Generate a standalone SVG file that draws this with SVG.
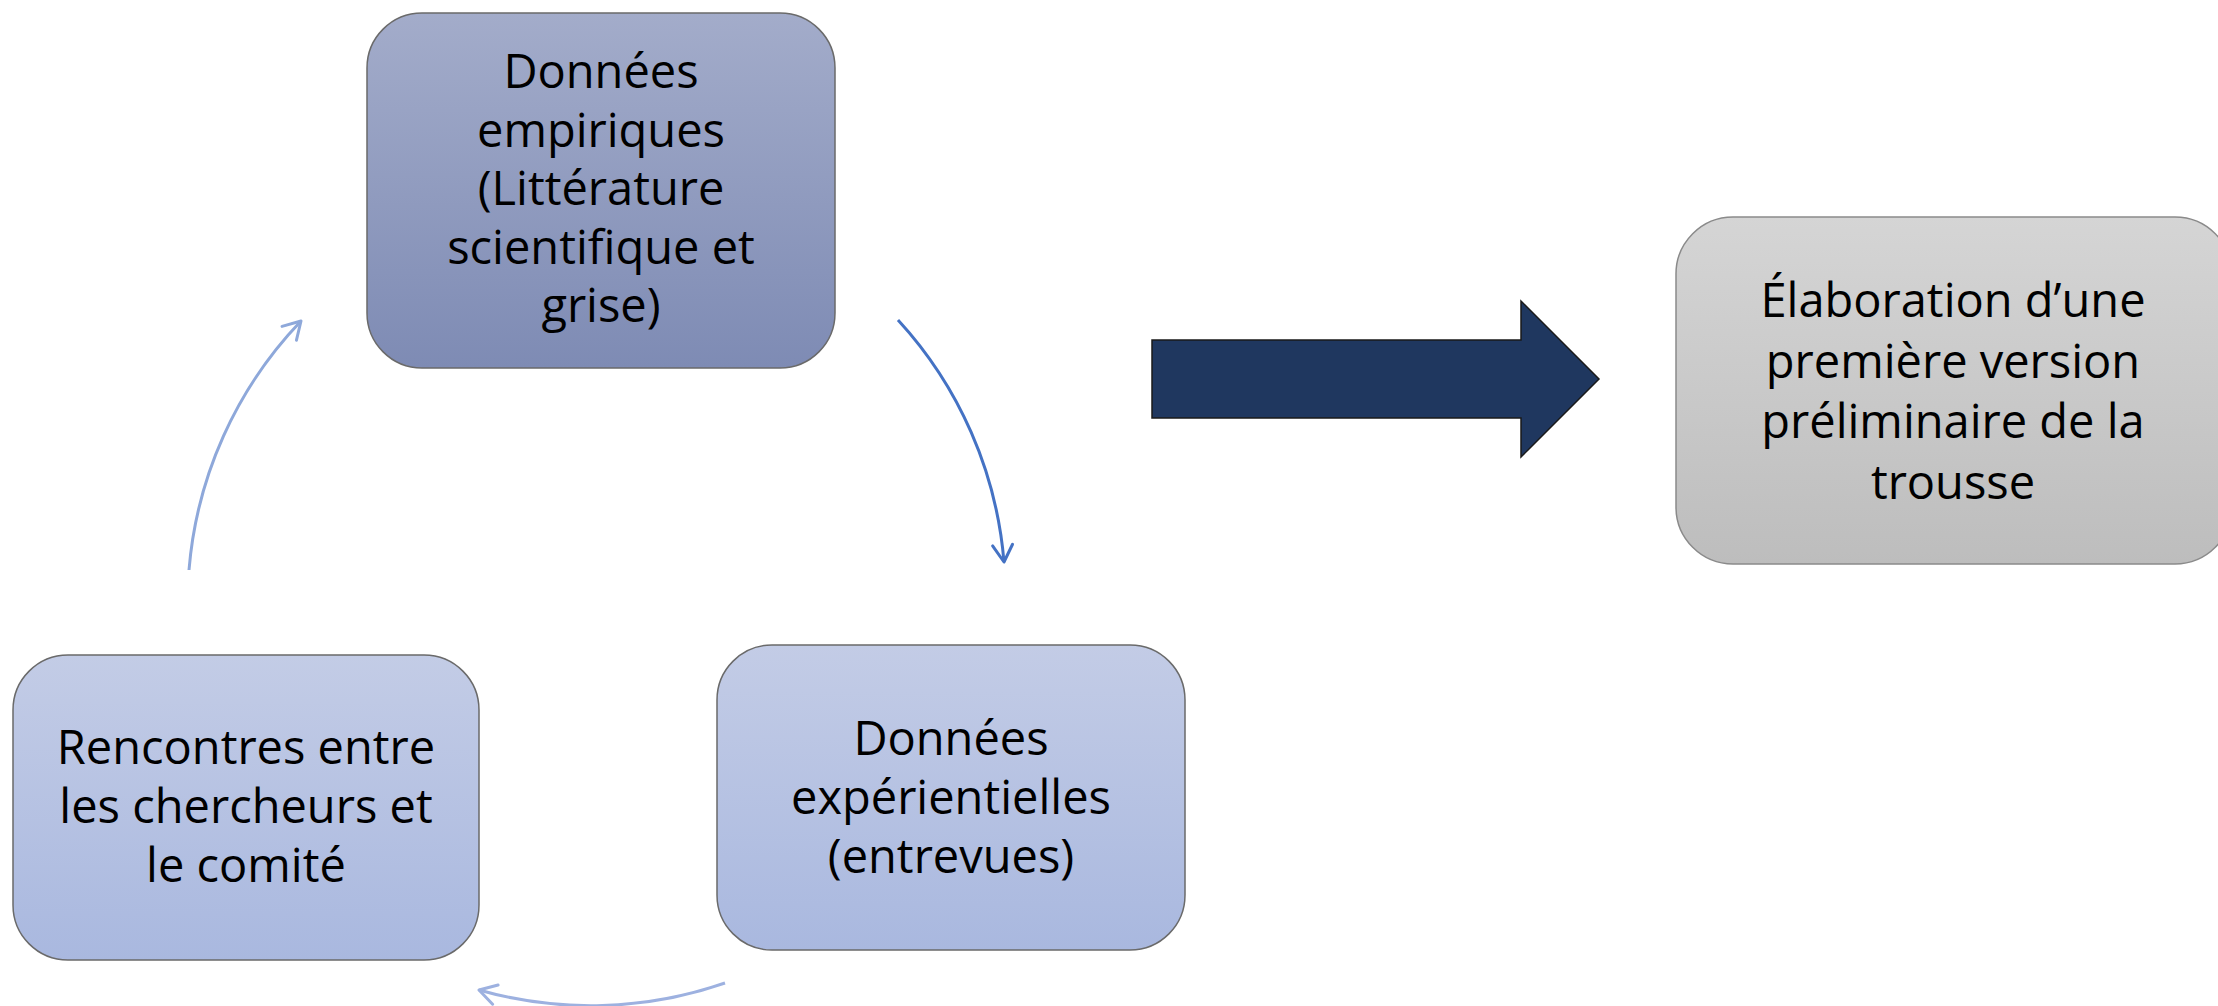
<svg xmlns="http://www.w3.org/2000/svg" width="2218" height="1006" viewBox="0 0 2218 1006">
  <style>
    .lbl { font-family: "Open Sans", "Noto Sans", "Liberation Sans", sans-serif; font-size: 47px; fill: #000; text-anchor: middle; }
    .box { stroke: #6a6a6a; stroke-width: 1.5; }
    .conn { fill: none; stroke-width: 3; }
  </style>
  <defs>
    <linearGradient id="gTop" x1="0" y1="0" x2="0" y2="1">
      <stop offset="0" stop-color="#A3ACCA"/>
      <stop offset="1" stop-color="#7E8BB4"/>
    </linearGradient>
    <linearGradient id="gLight" x1="0" y1="0" x2="0" y2="1">
      <stop offset="0" stop-color="#C3CCE6"/>
      <stop offset="1" stop-color="#A9B8DF"/>
    </linearGradient>
    <linearGradient id="gGray" x1="0" y1="0" x2="0" y2="1">
      <stop offset="0" stop-color="#D5D5D5"/>
      <stop offset="1" stop-color="#BDBDBD"/>
    </linearGradient>
    <marker id="mBlue" markerUnits="userSpaceOnUse" markerWidth="40" markerHeight="40" viewBox="-20 -20 40 40" refX="0" refY="0" orient="auto">
      <path d="M -17 -10 L 0 0 L -17 10" fill="none" stroke="#4472C4" stroke-width="3" stroke-linecap="round" stroke-linejoin="round"/>
    </marker>
    <marker id="mMid" markerUnits="userSpaceOnUse" markerWidth="40" markerHeight="40" viewBox="-20 -20 40 40" refX="0" refY="0" orient="auto">
      <path d="M -17 -10 L 0 0 L -17 10" fill="none" stroke="#8EA8DA" stroke-width="3" stroke-linecap="round" stroke-linejoin="round"/>
    </marker>
    <marker id="mPale" markerUnits="userSpaceOnUse" markerWidth="40" markerHeight="40" viewBox="-20 -20 40 40" refX="0" refY="0" orient="auto">
      <path d="M -17 -10 L 0 0 L -17 10" fill="none" stroke="#9DB1E0" stroke-width="3" stroke-linecap="round" stroke-linejoin="round"/>
    </marker>
  </defs>

  <rect width="2218" height="1006" fill="#ffffff"/>

  <g id="connectors">
    <path class="conn" stroke="#4472C4" d="M 898 320 A 408 408 0 0 1 1004 562" marker-end="url(#mBlue)"/>
    <path class="conn" stroke="#9DB1E0" d="M 725 983 A 408 408 0 0 1 479 990" marker-end="url(#mPale)"/>
    <path class="conn" stroke="#8EA8DA" d="M 189 570 A 408 408 0 0 1 301 321" marker-end="url(#mMid)"/>
  </g>

  <g id="node-empiriques">
    <rect class="box" x="367" y="13" width="468" height="355" rx="55" ry="55" fill="url(#gTop)"/>
    <text class="lbl" x="601" y="88">Données</text>
    <text class="lbl" x="601" y="146.5">empiriques</text>
    <text class="lbl" x="601" y="205">(Littérature</text>
    <text class="lbl" x="601" y="263.5">scientifique et</text>
    <text class="lbl" x="601" y="322">grise)</text>
  </g>

  <g id="node-experientielles">
    <rect class="box" x="717" y="645" width="468" height="305" rx="55" ry="55" fill="url(#gLight)"/>
    <text class="lbl" x="951" y="755">Données</text>
    <text class="lbl" x="951" y="814">expérientielles</text>
    <text class="lbl" x="951" y="873">(entrevues)</text>
  </g>

  <g id="node-rencontres">
    <rect class="box" x="13" y="655" width="466" height="305" rx="55" ry="55" fill="url(#gLight)"/>
    <text class="lbl" x="246" y="764">Rencontres entre</text>
    <text class="lbl" x="246" y="823">les chercheurs et</text>
    <text class="lbl" x="246" y="882">le comité</text>
  </g>

  <g id="big-arrow">
    <polygon points="1152,340 1521,340 1521,301 1599,379 1521,457 1521,418 1152,418" fill="#1F375F" stroke="#1a1a1a" stroke-width="1.5"/>
  </g>

  <g id="node-elaboration">
    <rect x="1676" y="217" width="556" height="347" rx="57" ry="57" fill="url(#gGray)" stroke="#8a8a8a" stroke-width="1.5"/>
    <text class="lbl" x="1953" y="317">Élaboration d’une</text>
    <text class="lbl" x="1953" y="377.5">première version</text>
    <text class="lbl" x="1953" y="438">préliminaire de la</text>
    <text class="lbl" x="1953" y="498.5">trousse</text>
  </g>
</svg>
